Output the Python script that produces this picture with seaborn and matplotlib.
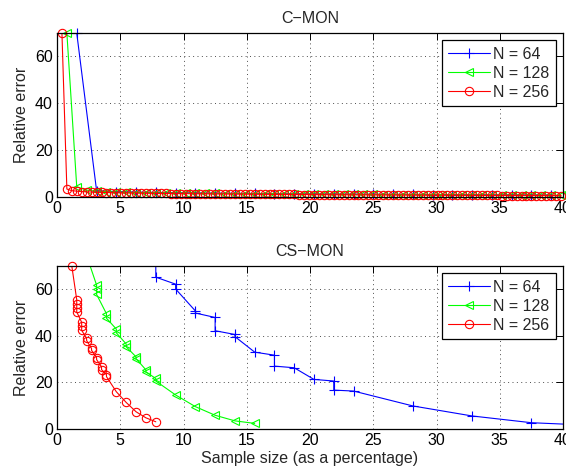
import matplotlib
matplotlib.use("Agg")
import matplotlib.pyplot as plt
import seaborn as sns
import pandas as pd
from matplotlib.lines import Line2D

# ---------------- data: C-MON (top) ----------------
top_x_256 = [0.39, 0.78, 1.17, 1.56, 1.95, 2.34, 2.73, 3.13, 3.52, 3.91, 4.30, 4.69, 5.08, 5.47, 5.86,
             6.25, 6.64, 7.03, 7.42, 7.81, 8.20, 8.59, 8.98, 9.38, 9.77, 10.16, 10.55, 10.94, 11.33,
             11.72, 12.11, 12.50, 12.89, 13.28, 13.67, 14.06, 14.45, 14.84, 15.23, 15.63, 16.02, 16.41,
             16.80, 17.19, 17.58, 17.97, 18.36, 18.75, 19.14, 19.53, 19.92, 20.31, 20.70, 21.09, 21.48,
             21.88, 22.27, 22.66, 23.05, 23.44, 23.83, 24.22, 24.61, 25.00, 25.39, 25.78, 26.17, 26.56,
             26.95, 27.34, 27.73, 28.13, 28.52, 28.91, 29.30, 29.69, 30.08, 30.47, 30.86, 31.25, 31.64,
             32.03, 32.42, 32.81, 33.20, 33.59, 33.98, 34.38, 34.77, 35.16, 35.55, 35.94, 36.33, 36.72,
             37.11, 37.50, 37.89, 38.28, 38.67, 39.06, 39.45, 39.84]
top_y_256 = [70, 3.4, 2.7, 2.5, 2.3, 2.2, 2.1, 2.0, 1.95, 1.9,
             1.85, 1.8, 1.75, 1.7, 1.68, 1.65, 1.62, 1.6, 1.57, 1.55,
             1.52, 1.5, 1.48, 1.46, 1.44, 1.42, 1.4, 1.38, 1.36, 1.35,
             1.33, 1.31, 1.3, 1.28, 1.26, 1.25, 1.23, 1.22, 1.2, 1.19,
             1.17, 1.16, 1.14, 1.13, 1.11, 1.1, 1.08, 1.07, 1.05, 1.04,
             1.03, 1.01, 1.0, 0.99, 0.97, 0.96, 0.95, 0.94, 0.92, 0.91,
             0.9, 0.89, 0.88, 0.87, 0.86, 0.85, 0.84, 0.83, 0.82, 0.81,
             0.8, 0.79, 0.78, 0.77, 0.76, 0.75, 0.74, 0.73, 0.72, 0.72,
             0.71, 0.7, 0.69, 0.68, 0.68, 0.67, 0.66, 0.65, 0.65, 0.64,
             0.63, 0.63, 0.62, 0.61, 0.61, 0.6, 0.6, 0.59, 0.58, 0.58,
             0.57, 0.57]

top_x_128 = [0.78, 1.56, 2.34, 3.13, 3.91, 4.69, 5.47, 6.25, 7.03, 7.81, 8.59, 9.38, 10.16, 10.94, 11.72,
             12.50, 13.28, 14.06, 14.84, 15.63, 16.41, 17.19, 17.97, 18.75, 19.53, 20.31, 21.09, 21.88,
             22.66, 23.44, 24.22, 25.00, 25.78, 26.56, 27.34, 28.13, 28.91, 29.69, 30.47, 31.25, 32.03,
             32.81, 33.59, 34.38, 35.16, 35.94, 36.72, 37.50, 38.28, 39.06, 39.84]
top_y_128 = [70, 4.4, 2.9, 2.5, 2.3, 2.1, 2.0, 1.9, 1.85, 1.8,
             1.75, 1.7, 1.65, 1.6, 1.56, 1.52, 1.48, 1.45, 1.42, 1.39,
             1.36, 1.33, 1.3, 1.27, 1.25, 1.22, 1.2, 1.17, 1.15, 1.12,
             1.1, 1.08, 1.06, 1.04, 1.02, 1.0, 0.98, 0.96, 0.94, 0.92,
             0.9, 0.89, 0.87, 0.85, 0.84, 0.82, 0.81, 0.79, 0.78, 0.77,
             0.76]

top_x_64 = [1.56, 3.13, 4.69, 6.25, 7.81, 9.38, 10.94, 12.50, 14.06, 15.63, 17.19, 18.75, 20.31, 21.88,
            23.44, 25.00, 26.56, 28.13, 29.69, 31.25, 32.81, 34.38, 35.94, 37.50, 39.06]
top_y_64 = [70, 2.7, 2.3, 2.1, 1.95, 1.85, 1.75, 1.65, 1.58, 1.5,
            1.44, 1.38, 1.32, 1.27, 1.22, 1.17, 1.13, 1.09, 1.05, 1.01,
            0.97, 0.94, 0.91, 0.88, 0.85]

# ---------------- data: CS-MON (bottom) ----------------
bot_x_64 = [7.81, 7.81, 9.38, 9.38, 10.94, 10.94, 12.50, 12.50, 14.06, 14.06, 15.63, 17.19, 17.19,
            18.75, 20.31, 21.88, 21.88, 23.44, 28.13, 32.81, 37.50, 42.19]
bot_y_64 = [75, 65.2, 62.2, 60.1, 50.7, 49.8, 47.9, 42.2, 40.6, 39.7, 33.0, 31.7, 27.0,
            26.3, 21.3, 20.6, 16.7, 16.3, 9.9, 5.6, 2.7, 1.6]

bot_x_128 = [2.34, 3.13, 3.13, 3.13, 3.91, 3.91, 4.69, 4.69, 5.47, 5.47, 6.25, 6.25, 7.03, 7.03,
             7.81, 7.81, 9.38, 10.94, 12.50, 14.06, 15.63]
bot_y_128 = [74.5, 61.8, 60.0, 57.8, 49.5, 47.6, 42.9, 41.3, 36.5, 35.3, 31.0, 30.2, 25.4, 24.5,
             21.7, 20.6, 14.6, 9.6, 5.9, 3.5, 2.4]

bot_x_256 = [1.17, 1.56, 1.56, 1.56, 1.56, 1.95, 1.95, 1.95, 2.34, 2.34, 2.73, 2.73, 3.13, 3.13,
             3.52, 3.52, 3.91, 3.91, 4.69, 5.47, 6.25, 7.03, 7.81]
bot_y_256 = [70, 55.5, 53.5, 52.0, 50.3, 45.8, 44.2, 42.4, 38.9, 38.0, 34.6, 33.8, 30.7, 29.8,
             26.7, 25.5, 23.4, 22.5, 16.0, 11.4, 7.4, 4.8, 3.1]

labels = ["N = 64", "N = 128", "N = 256"]
titles = ["C\u2212MON", "CS\u2212MON"]
x_ticks = [0, 5, 10, 15, 20, 25, 30, 35, 40]
y_ticks = [0, 20, 40, 60]
xlabel = "Sample size (as a percentage)"
ylabel = "Relative error"

# ---------------- style ----------------
sns.set_style("white")
plt.rcParams["font.family"] = ["Liberation Sans", "DejaVu Sans"]
FS = 11.5

colors = ["#0000ff", "#00ff00", "#ff0000"]
markers = ["+", "<", "o"]
msizes = [7, 6, 6]

fig = plt.figure(figsize=(5.66, 4.73), dpi=100)
ax_top = fig.add_axes([57 / 566, 1 - 197 / 473, 506 / 566, 164 / 473])
ax_bot = fig.add_axes([57 / 566, 1 - 429 / 473, 506 / 566, 163 / 473])

XMAX, YMAX = 40, 70


def draw(ax, series, title):
    for (xs, ys), lab, c, m, ms in zip(series, labels, colors, markers, msizes):
        df = pd.DataFrame({"x": xs, "y": ys})
        sns.lineplot(data=df, x="x", y="y", estimator=None, sort=False, ax=ax,
                     color=c, linewidth=0.8, legend=False)
        inside = df[(df.x <= XMAX) & (df.y <= YMAX)]
        mk = dict(marker=m, markersize=ms, markeredgewidth=0.8,
                  markeredgecolor=c, linestyle="", clip_on=False)
        if m != "+":
            mk["markerfacecolor"] = "none"
        sns.lineplot(data=inside, x="x", y="y", estimator=None, sort=False, ax=ax,
                     color=c, legend=False, **mk)
    ax.set_xlim(0, XMAX)
    ax.set_ylim(0, YMAX)
    ax.set_xticks(x_ticks)
    ax.set_yticks(y_ticks)
    ax.grid(True, color="0.3", linestyle=(0, (1, 3.5)), linewidth=0.7)
    ax.tick_params(direction="in", length=5, width=0.7, top=True, right=True,
                   labelsize=FS, pad=3, colors="black")
    for sp in ax.spines.values():
        sp.set_visible(True)
        sp.set_color("black")
        sp.set_linewidth(0.9)
    ax.set_title(title, fontsize=FS, pad=7)
    ax.set_ylabel(ylabel, fontsize=FS)
    ax.yaxis.set_label_coords(-0.056, 0.5)
    ax.set_xlabel("")
    handles = [Line2D([], [], color=c, marker=m, markersize=ms, markeredgewidth=0.8,
                      markerfacecolor=("none" if m != "+" else c), linewidth=0.8)
               for c, m, ms in zip(colors, markers, msizes)]
    leg = ax.legend(handles, labels, loc="upper right", fontsize=FS, frameon=True,
                    fancybox=False, framealpha=1, edgecolor="black",
                    borderaxespad=0.45, handlelength=2.6, handletextpad=0.2,
                    labelspacing=0.25, borderpad=0.4)
    leg.get_frame().set_linewidth(0.9)


draw(ax_top, [(top_x_64, top_y_64), (top_x_128, top_y_128), (top_x_256, top_y_256)], titles[0])
draw(ax_bot, [(bot_x_64, bot_y_64), (bot_x_128, bot_y_128), (bot_x_256, bot_y_256)], titles[1])
ax_bot.set_xlabel(xlabel, fontsize=FS, labelpad=2)

fig.savefig("out.png", dpi=100)
